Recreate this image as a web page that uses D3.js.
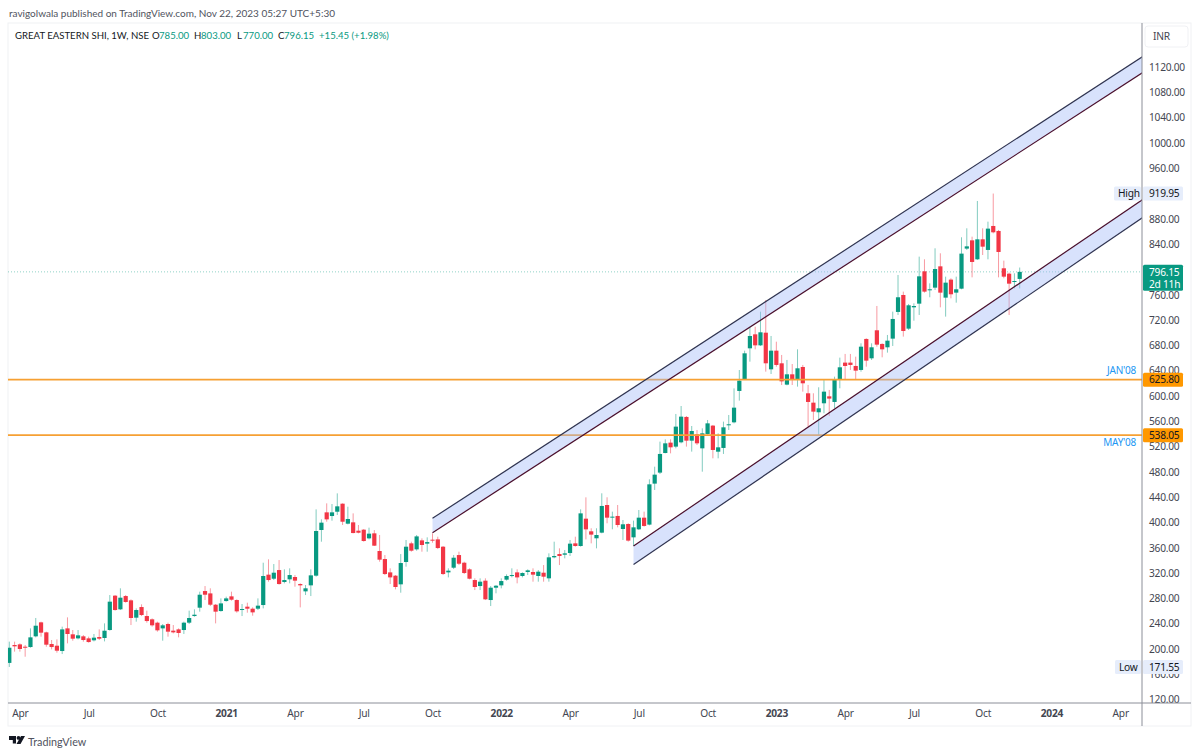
<!DOCTYPE html>
<html>
<head>
<meta charset="utf-8">
<style>
html, body { margin: 0; padding: 0; background: #fff; }
text { font-family: "Noto Sans", sans-serif; letter-spacing: -0.25px; }
text.lato { font-family: Lato, sans-serif; letter-spacing: 0; }
</style>
<script src="https://cdn.jsdelivr.net/npm/d3@7/dist/d3.min.js"></script>
</head>
<body>
<svg id="chart" width="1200" height="756"></svg>
<script>
// weekly candles, first bar is the week of 23 Mar 2020, last one 20 Nov 2023
var opens = [178,206.3,207.3,203.6,203.1,220,242.1,226.3,207.9,205.2,196.8,232.6,223.2,216.8,220,216.8,213.7,218.9,217.4,230,284.3,262.7,283.7,276.9,249.5,266.3,252.1,246.9,241.6,232.6,239.5,229,231,230,241.6,252.1,265.3,291.6,287.9,270,260,275.8,283.2,277.4,262.1,266.9,263.7,263.7,269.5,317.5,311.1,324.8,305.9,310.1,313.8,302.7,
  291.1,300.6,315.9,388.1,416,410.2,417,429.7,398.1,400.2,387,388.6,374.9,382.8,354.9,342.2,321.1,315.9,302.2,337.5,367,357.5,371.7,366.5,372.8,373.3,361.7,321.1,328.5,348.5,336.4,325.9,309,299.5,308,277.4,296.9,300.6,309.6,315.4,321.1,315.4,321.7,321.7,315.4,320.6,311.7,344.9,350.1,349,351.7,367,362.8,406,
  386,375,383.9,427.6,408.2,410.3,389.7,397.6,376.5,389.2,407.6,396.6,461.4,478.8,509.8,526.2,519.9,526.7,566.8,529.3,539.3,517.2,539.9,553.1,511.9,517.8,554.1,558.3,607.9,626.3,675.3,697.4,680,700,642.1,671.6,651.6,617.9,634.2,
  625.3,645.8,604.2,589.4,574.2,588.4,599.4,590.5,625.3,652.7,652.7,647.4,641.1,690.1,659.5,703.8,682.2,676.9,690.6,732.8,759.6,706.4,740.1,745.9,797,767,771.2,804.9,755.4,783.9,763.3,769.6,832.9,846,816,847.6,830.8,868.7,860.8,801.8,793.3,780.7,785];
var highs = [211.6,211.6,208.9,206.3,232.6,249,243.2,227.4,214.2,215.2,235.3,250,230,230,222,219.5,223.7,231,240.5,285.3,285.3,295.9,285.3,278.5,264.2,270.6,260.6,248.4,243.2,239.5,241.6,237.9,232.6,243.2,260.6,262.7,290.6,299.5,295.9,271.1,280,282.7,290.6,278.5,271.1,273.2,265.8,280,336.4,341.7,334.3,340.6,325.9,327.5,316.9,303.8,
  301.1,325.9,420.7,404.9,430.2,429.2,446,430.2,424.9,414.4,396,389.6,391.8,388,380.2,348.5,327.5,316.9,350.1,372.3,369.6,380.2,374.9,376.5,382.8,377.5,362.8,327.5,348.5,353.8,338,327.5,311.7,311.7,311.7,299.5,301.1,311.7,318,327.5,325.9,321.1,325.9,327.5,324.8,332.7,351.2,369.6,359.1,356.5,372.3,377.5,420.7,439.7,
  390.8,390.8,446.1,439.8,417.1,427.6,403.9,398.7,402.9,419.7,417.1,468.2,488.2,527.8,531.4,531.4,571.5,584.1,568.3,552.5,546.2,548.8,562,554.1,540.9,559.4,569.9,612,641,671.6,709.5,709.5,733.2,751.7,694.8,685.8,664.8,656.9,650.5,
  673.7,649,617.4,604.2,613.7,626.3,609.5,630.5,660.6,666.4,666.4,662.1,683.2,691.1,683.2,742.2,683.2,696.4,733.3,791.2,764.9,745.4,746.4,820.2,816,778,833.4,825.5,788.6,786,788.6,850.8,865,851.8,908.2,865,875.5,919.95,862.4,813.9,794.9,793.9,803];
var lows = [171.55,195.8,195.8,187.8,202,218.4,219.5,203.6,199.4,194.2,192,208.9,213.1,215.2,211.6,210,212,214.2,212,229,260.6,261.6,273.2,237.9,243.2,252.1,241.6,235.3,227.4,213.1,219.5,224.7,218.4,223.7,239.5,251,259,277.4,267.9,240.5,259,274.8,276.4,257.4,252.1,257.4,252.6,261.6,264.2,306.4,309,301.7,303.8,303.8,298.5,265.8,
  285.3,283.7,314.3,369.6,401.2,402.8,411.8,396,397,382.8,382.8,369.6,373.3,362.8,338,316.9,302.7,294.3,289,330.1,353.8,355.4,353.8,353.8,368,358,316.9,313.2,326.4,332.7,318.5,310.1,293.2,293.2,277.4,267.9,288,295.9,308,313.2,303.8,313.2,316.9,306.4,306.4,306.4,306.4,343.3,332.7,343.3,347,361.7,361.7,373.3,
  367,359.1,382.9,398.7,389.2,392.3,372.3,369.7,362.8,388.1,393.4,395.5,451.4,476.6,509.3,509.3,517.2,525.1,519.9,512,522.5,480.3,538.8,501.4,501.4,508.3,546.2,556.7,592.6,625.2,654.2,673.7,679,638.4,634.7,646.3,617.3,616.8,617.3,
  614.7,606.8,551.5,562,538.3,572.6,568.4,580.5,612.1,625.3,641.1,626.3,638.4,646.3,656.9,677.9,661.1,668.5,679,728,693.8,704.3,719,728,763.3,756,767.5,740.1,725.4,754.3,747.5,768.6,830.8,787.5,815,822.8,816,857.1,787.5,786,728,770.1,770];
var closes = [202,204.2,200,202,218.4,236.8,225.8,206.8,203.1,197.3,231,223.7,216.3,221.6,214.2,211,217.9,216.3,228.9,274.8,261.6,281.1,274.3,249,261.6,253.7,244.2,237.4,229.5,237.4,227.4,226.3,225.3,241.6,249,254.2,285.8,285.8,270,259,272.1,280,277.9,259.5,263.2,263.7,257.9,268.5,315.4,309,320.6,302.7,309,316.9,308,300.6,
  295.9,316.4,386.5,399.7,404.9,416,425.5,401.2,405.5,383.3,383.8,370.7,382.3,363.3,341.2,318.5,313.2,298,335.9,361.7,355.4,378,364.4,369,371.7,359.6,318.5,323.8,344.3,334.8,320.1,311.1,298,306.4,278.5,296.9,300,307.4,315.4,316.9,313.2,320.1,324.3,317.5,322.2,314.3,344.9,347,347,351.2,366.5,362.8,414.4,389.1,
  380.8,380.2,426.1,407.6,409.2,396,397.1,371.3,392.3,407.6,394.5,460.3,475.6,508.3,525.1,518.8,551.5,567.3,529.3,544.6,525.1,540.9,556.7,514.6,518.8,550.4,555.2,581.5,624.2,667.4,694.8,680,700.6,651.6,671.6,649,623.1,634.2,626.8,
  643.7,620,590.5,575.2,580.5,606.8,595.8,626.3,645.3,647.4,649,640,677.9,655.8,676.9,681.1,673.7,687.4,721.7,756,702.7,743.3,742.2,789.1,764.9,768.6,800.7,763.3,779.1,760.7,768.6,825,836.5,811.8,847.6,836,864.5,858.7,827.6,788.6,777.5,781.7,796.15];

// axis ticks
var priceTicks = [1120,1080,1040,1000,960,880,840,760,720,680,640,600,560,520,480,440,400,360,320,280,240,200,160,120];
var timeTickDates = ["2020-04-06","2020-07-06","2020-10-05","2021-01-04","2021-04-05","2021-07-05","2021-10-04","2022-01-03","2022-04-04","2022-07-04","2022-10-03","2023-01-02","2023-04-03","2023-07-03","2023-10-02","2024-01-01","2024-04-01"];
var timeTickLabels = ["Apr","Jul","Oct","2021","Apr","Jul","Oct","2022","Apr","Jul","Oct","2023","Apr","Jul","Oct","2024","Apr"];

// channels: [start date, start price, end date, end price]
var channelTopA = ["2021-10-04",406.6,"2024-05-06",1140.6];
var channelTopB = ["2021-10-04",383.8,"2024-05-06",1115.3];
var channelBottomA = ["2022-06-27",362.8,"2024-05-06",914.9];
var channelBottomB = ["2022-06-27",333.4,"2024-05-06",886.4];

// horizontal levels
var levelValues = [625.80,538.05];
var levelNotes = ["JAN'08","MAY'08"];
var lastPrice = 796.15;
var allTimeHigh = 919.95;
var allTimeLow = 171.55;

var parseDay = d3.utcParse("%Y-%m-%d");
var weeks = d3.utcMonday.range(parseDay("2020-03-23"), parseDay("2023-11-21"));

var plot = {left: 8, right: 1142, top: 23, bottom: 703};
var x = d3.scaleUtc()
    .domain([parseDay("2020-03-23"), parseDay("2023-11-20")])
    .range([9.3, 1019.7]);
var y = d3.scaleLinear()
    .domain([120, 1120])
    .range([699.6, 67]);

var GREEN = "#089981", RED = "#f23645", AXIS_TEXT = "#434651";
var AXIS_SIZE = "10.2px";

var svg = d3.select("#chart");

// frame
svg.append("rect").attr("x", plot.left).attr("y", plot.top)
    .attr("width", 1191 - plot.left).attr("height", 726 - plot.top)
    .attr("fill", "#fff").attr("stroke", "#f0f1f4");

svg.append("defs").append("clipPath").attr("id", "plotClip")
    .append("rect").attr("x", plot.left).attr("y", plot.top)
    .attr("width", plot.right - plot.left).attr("height", plot.bottom - plot.top);

var main = svg.append("g").attr("clip-path", "url(#plotClip)");

// last price dotted line
main.append("line")
    .attr("x1", plot.left).attr("x2", plot.right)
    .attr("y1", y(lastPrice)).attr("y2", y(lastPrice))
    .attr("stroke", GREEN).attr("stroke-opacity", 0.45)
    .attr("stroke-dasharray", "1,2");

// candles
var candle = main.append("g").selectAll("g")
    .data(weeks)
    .enter().append("g");
candle.append("line")
    .attr("x1", function(d) { return x(d); })
    .attr("x2", function(d) { return x(d); })
    .attr("y1", function(d, i) { return y(highs[i]); })
    .attr("y2", function(d, i) { return y(lows[i]); })
    .attr("stroke", function(d, i) { return closes[i] >= opens[i] ? GREEN : RED; })
    .attr("stroke-opacity", 0.5)
    .attr("stroke-width", 1);
candle.append("rect")
    .attr("x", function(d) { return x(d) - 2.1; })
    .attr("width", 4.2)
    .attr("y", function(d, i) { return y(Math.max(opens[i], closes[i])); })
    .attr("height", function(d, i) { return Math.max(1, Math.abs(y(opens[i]) - y(closes[i]))); })
    .attr("fill", function(d, i) { return closes[i] >= opens[i] ? GREEN : RED; });

// orange levels
main.selectAll(".level")
    .data(levelValues)
    .enter().append("line")
    .attr("class", "level")
    .attr("x1", plot.left).attr("x2", plot.right)
    .attr("y1", function(d) { return y(d); })
    .attr("y2", function(d) { return y(d); })
    .attr("stroke", "#f6a033").attr("stroke-width", 1.6);

// channels
function drawChannel(a, b, colorA, colorB) {
    var pts = [[x(parseDay(a[0])), y(a[1])], [x(parseDay(a[2])), y(a[3])],
               [x(parseDay(b[2])), y(b[3])], [x(parseDay(b[0])), y(b[1])]];
    main.append("path")
        .attr("d", d3.line()(pts) + "Z")
        .attr("fill", "#a3baf7").attr("fill-opacity", 0.42);
    main.append("line")
        .attr("x1", pts[0][0]).attr("y1", pts[0][1]).attr("x2", pts[1][0]).attr("y2", pts[1][1])
        .attr("stroke", colorA).attr("stroke-width", 1.2);
    main.append("line")
        .attr("x1", pts[3][0]).attr("y1", pts[3][1]).attr("x2", pts[2][0]).attr("y2", pts[2][1])
        .attr("stroke", colorB).attr("stroke-width", 1.2);
}
drawChannel(channelTopA, channelTopB, "#2f3350", "#4a0f2c");
drawChannel(channelBottomA, channelBottomB, "#4a0f2c", "#2f3350");

// axes
var yAxis = d3.axisRight(y).tickValues(priceTicks).tickSize(0).tickPadding(7)
    .tickFormat(d3.format(".2f"));
var yG = svg.append("g").attr("transform", "translate(" + plot.right + ",0)").call(yAxis);
yG.select(".domain").remove();
yG.selectAll("text").attr("fill", AXIS_TEXT).style("font-size", AXIS_SIZE);

var xAxis = d3.axisBottom(x)
    .tickValues(timeTickDates.map(parseDay))
    .tickSize(0).tickPadding(7)
    .tickFormat(function(d, i) { return timeTickLabels[i]; });
var xG = svg.append("g").attr("transform", "translate(0," + plot.bottom + ")").call(xAxis);
xG.select(".domain").remove();
xG.selectAll("text")
    .attr("fill", AXIS_TEXT)
    .style("font-size", AXIS_SIZE)
    .style("font-weight", function(d, i) { return /^\d+$/.test(timeTickLabels[i]) ? "700" : "400"; });

svg.append("line").attr("x1", plot.left).attr("x2", 1191).attr("y1", plot.bottom).attr("y2", plot.bottom)
    .attr("stroke", "#8b8e98");
svg.append("line").attr("x1", plot.right).attr("x2", plot.right).attr("y1", plot.top).attr("y2", 726)
    .attr("stroke", "#8b8e98");

// price badges
function badge(value, fill, color) {
    var by = y(value);
    svg.append("rect").attr("x", 1143).attr("y", by - 7).attr("width", 40).attr("height", 14)
        .attr("rx", 1.5).attr("fill", fill);
    svg.append("text").attr("x", 1149).attr("y", by + 3.7).attr("fill", color)
        .style("font-size", AXIS_SIZE).text(d3.format(".2f")(value));
}
function sideTag(value, label, x0) {
    var by = y(value);
    svg.append("rect").attr("x", x0).attr("y", by - 7).attr("width", 1141 - x0).attr("height", 14)
        .attr("rx", 1.5).attr("fill", "#e6edfb");
    svg.append("text").attr("x", x0 + 4).attr("y", by + 3.7).attr("fill", "#131722")
        .style("font-size", AXIS_SIZE).text(label);
}
badge(allTimeHigh, "#e6edfb", "#131722");
sideTag(allTimeHigh, "High", 1114);
badge(allTimeLow, "#e6edfb", "#131722");
sideTag(allTimeLow, "Low", 1115);

badge(levelValues[0], "#ff9800", "#131722");
badge(levelValues[1], "#ff9800", "#131722");

// last price badge has a countdown under it
svg.append("rect").attr("x", 1143).attr("y", y(lastPrice) - 7).attr("width", 40).attr("height", 26)
    .attr("rx", 1.5).attr("fill", GREEN);
svg.append("text").attr("x", 1149).attr("y", y(lastPrice) + 3.7).attr("fill", "#fff")
    .style("font-size", AXIS_SIZE).text(d3.format(".2f")(lastPrice));
svg.append("text").attr("x", 1149).attr("y", y(lastPrice) + 15.7).attr("fill", "#fff")
    .style("font-size", AXIS_SIZE).text("2d 11h");

// level notes
svg.selectAll(".levelNote")
    .data(levelNotes)
    .enter().append("text")
    .attr("class", "levelNote")
    .attr("x", 1136).attr("text-anchor", "end")
    .attr("y", function(d, i) { return y(levelValues[i]) + (i == 0 ? -6 : 11); })
    .attr("fill", "#2196f3")
    .style("font-size", "10px")
    .text(function(d) { return d; });

// header texts
svg.append("text").attr("class", "lato").attr("x", 9).attr("y", 17).attr("fill", "#50535e")
    .style("font-size", "10px")
    .text("ravigolwala published on TradingView.com, Nov 22, 2023 05:27 UTC+5:30");

var legendParts = [
    {t: "GREAT EASTERN SHI, 1W, NSE", x: 15, c: "#131722"},
    {t: "O", x: 152, c: "#131722"}, {t: "785.00", x: 159, c: GREEN},
    {t: "H", x: 194, c: "#131722"}, {t: "803.00", x: 201, c: GREEN},
    {t: "L", x: 237, c: "#131722"}, {t: "770.00", x: 243, c: GREEN},
    {t: "C", x: 278, c: "#131722"}, {t: "796.15", x: 284, c: GREEN},
    {t: "+15.45 (+1.98%)", x: 319, c: GREEN}
];
svg.selectAll(".legend")
    .data(legendParts)
    .enter().append("text")
    .attr("class", "legend lato")
    .attr("x", function(d) { return d.x; })
    .attr("y", 38.5)
    .attr("fill", function(d) { return d.c; })
    .style("font-size", "9.6px")
    .text(function(d) { return d.t; });

// INR unit box
svg.append("rect").attr("x", 1145).attr("y", 26).attr("width", 43).attr("height", 21).attr("rx", 3)
    .attr("fill", "#fff").attr("stroke", "#f0f1f4");
svg.append("text").attr("x", 1153).attr("y", 40).attr("fill", AXIS_TEXT)
    .style("font-size", AXIS_SIZE).text("INR");

// footer logo
var logo = svg.append("g").attr("transform", "translate(9,736)").attr("fill", "#131722");
logo.append("path").attr("d", "M0 0H7V7.5H3.8V4H0Z");
logo.append("circle").attr("cx", 9.5).attr("cy", 1.9).attr("r", 1.9);
logo.append("path").attr("d", "M12 0H16L11.5 8H7.5Z");
svg.append("text").attr("class", "lato").attr("x", 28).attr("y", 746).attr("fill", "#50535e")
    .style("font-size", "10.8px").text("TradingView");
</script>
</body>
</html>
